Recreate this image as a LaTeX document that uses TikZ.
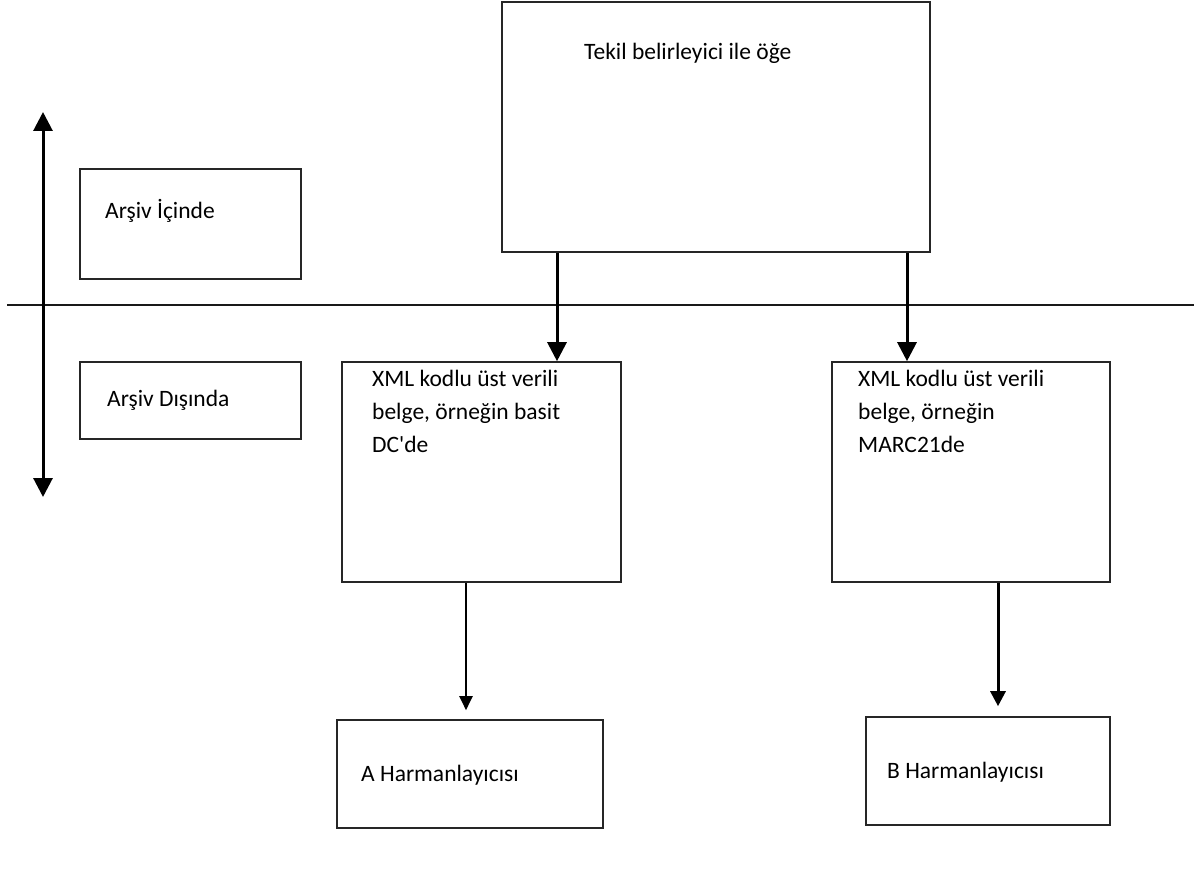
\documentclass[tikz,border=0pt]{standalone}
\usepackage{fontspec}
\setmainfont{Carlito}[Ligatures=TeXOff]
\usetikzlibrary{arrows.meta}
\begin{document}
\begin{tikzpicture}[x=1pt,y=-1pt,
  box/.style={draw=black!85,line width=1.6pt,inner sep=0pt,anchor=center},
  lbl/.style={inner sep=0pt,anchor=base west,font=\fontsize{23.5}{33}\selectfont,align=left},
  bigarr/.style={line width=3pt,-{Triangle[width=19pt,length=19pt]}},
  thinarr/.style={line width=2pt,-{Triangle[width=13pt,length=14pt]}},
  midarr/.style={line width=3pt,-{Triangle[width=15pt,length=15pt]}}]
\useasboundingbox (0,0) rectangle (1194,888);
% boxes
\node[box,minimum width=428pt,minimum height=250pt] (top) at (716,127) {};
\node[box,minimum width=221pt,minimum height=110pt] (in) at (190.5,224) {};
\node[box,minimum width=221pt,minimum height=77pt] (out) at (190.5,400.5) {};
\node[box,minimum width=279pt,minimum height=220pt] (xa) at (481.5,472) {};
\node[box,minimum width=278pt,minimum height=220pt] (xb) at (971,472) {};
\node[box,minimum width=266pt,minimum height=108pt] (ha) at (470,774) {};
\node[box,minimum width=244pt,minimum height=108pt] (hb) at (988,771) {};
% labels
\node[lbl] (ttop) at (584,60) {Tekil belirleyici ile öğe};
\node[lbl] (tin) at (105,218) {Arşiv İçinde};
\node[lbl] (tout) at (107,406) {Arşiv Dışında};
\node[lbl] (txa) at (372,452) {XML kodlu üst verili\\belge, örneğin basit\\DC'de};
\node[lbl] (txb) at (858,452) {XML kodlu üst verili\\belge, örneğin\\MARC21de};
\node[lbl] (tha) at (361,781) {A Harmanlayıcısı};
\node[lbl] (thb) at (887,778) {B Harmanlayıcısı};
% separator line
\coordinate (hl1) at (7,305);
\coordinate (hl2) at (1194,305);
\draw[line width=1.6pt,black!90] (hl1) -- (hl2);
% vertical double arrow
\coordinate (va) at (43,112);
\coordinate (vb) at (43,497);
\draw[line width=3pt,{Triangle[width=19pt,length=19pt]}-{Triangle[width=19pt,length=19pt]}] (va) -- (vb);
% arrows
\draw[bigarr] (top.south -| 557,0) -- (xa.north -| 557,0);
\draw[bigarr] (top.south -| 907,0) -- (xb.north -| 907,0);
\draw[thinarr,shorten >=9pt] (xa.south -| 466,0) -- (ha.north -| 466,0);
\draw[midarr,shorten >=10pt] (xb.south -| 998,0) -- (hb.north -| 998,0);
\end{tikzpicture}
\end{document}
